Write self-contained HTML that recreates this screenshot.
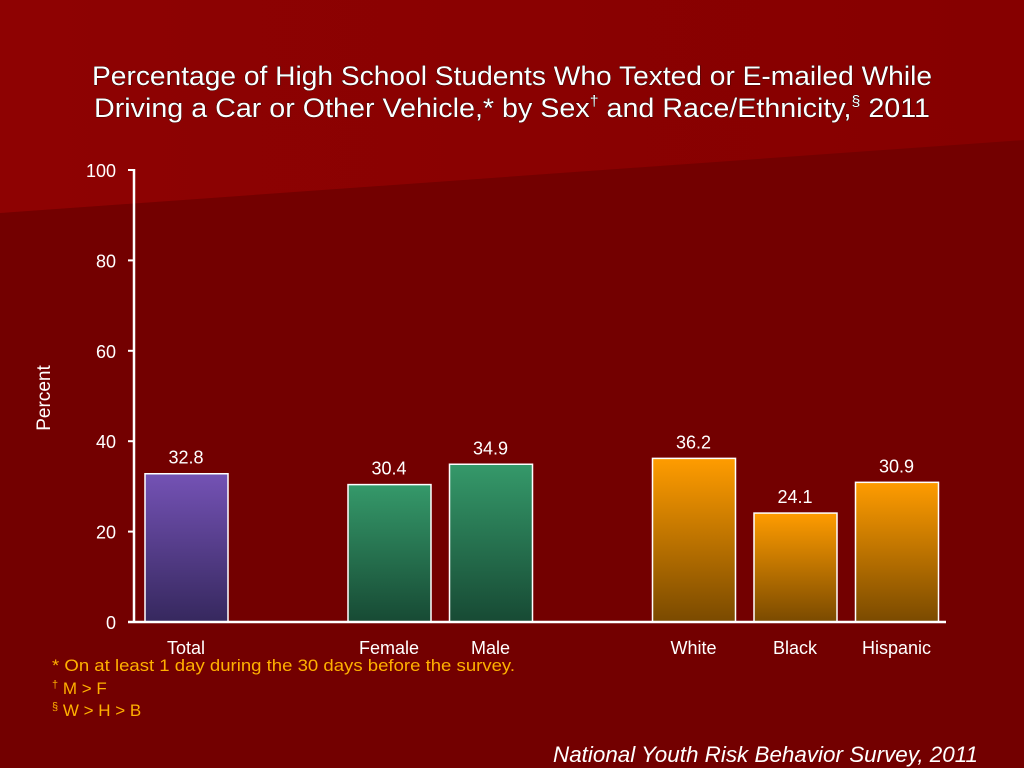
<!DOCTYPE html>
<html><head><meta charset="utf-8"><style>
body{margin:0;width:1024px;height:768px;overflow:hidden;background:#730000;font-family:"Liberation Sans",sans-serif}
svg{display:block}
</style></head><body>
<svg width="1024" height="768">
<defs>
<linearGradient id="gp" x1="0" y1="0" x2="0" y2="1"><stop offset="0" stop-color="#7452b5"/><stop offset="1" stop-color="#36285e"/></linearGradient>
<linearGradient id="gg" x1="0" y1="0" x2="0" y2="1"><stop offset="0" stop-color="#35996a"/><stop offset="1" stop-color="#174a34"/></linearGradient>
<linearGradient id="go" x1="0" y1="0" x2="0" y2="1"><stop offset="0" stop-color="#ff9c00"/><stop offset="1" stop-color="#7a4a00"/></linearGradient>
<linearGradient id="gbg" x1="0" y1="0" x2="1" y2="0"><stop offset="0" stop-color="#8e0202"/><stop offset="1" stop-color="#860000"/></linearGradient>
</defs>
<rect width="1024" height="768" fill="#730000"/>
<polygon points="0,0 1024,0 1024,140 0,213" fill="url(#gbg)"/>
<g fill="#fff" stroke="#000" stroke-width="0.6" paint-order="stroke" font-size="27">
<text x="512" y="85" text-anchor="middle" textLength="840" lengthAdjust="spacingAndGlyphs">Percentage of High School Students Who Texted or E-mailed While</text>
<text x="512" y="117" text-anchor="middle" textLength="836" lengthAdjust="spacingAndGlyphs">Driving a Car or Other Vehicle,* by Sex<tspan font-size="15" dy="-11">†</tspan><tspan dy="11"> and Race/Ethnicity,</tspan><tspan font-size="15" dy="-11">§</tspan><tspan dy="11"> 2011</tspan></text>
</g>
<g id="plot"></g>
<text x="50" y="398" transform="rotate(-90 50 398)" text-anchor="middle" fill="#fff" font-size="19">Percent</text>
<g fill="#ffb000" font-size="17">
<text x="52" y="671" textLength="463" lengthAdjust="spacingAndGlyphs">* On at least 1 day during the 30 days before the survey.</text>
<text x="52" y="694"><tspan font-size="11" dy="-6">†</tspan><tspan dy="6"> M &gt; F</tspan></text>
<text x="52" y="716"><tspan font-size="11" dy="-6">§</tspan><tspan dy="6"> W &gt; H &gt; B</tspan></text>
</g>
<text x="978" y="762" text-anchor="end" fill="#fff" font-size="22" font-style="italic" textLength="425" lengthAdjust="spacingAndGlyphs">National Youth Risk Behavior Survey, 2011</text>
</svg>
<script>
const categories=["Total","Female","Male","White","Black","Hispanic"];
const values=[32.8,30.4,34.9,36.2,24.1,30.9];
const slots=[0,2,3,5,6,7];
const fills=["url(#gp)","url(#gg)","url(#gg)","url(#go)","url(#go)","url(#go)"];
const yTicks=[0,20,40,60,80,100];
const NS="http://www.w3.org/2000/svg";
const g=document.getElementById('plot');
const y=v=>622-v*4.52;
const x=s=>136+s*101.5;
function mk(t,a,txt){const e=document.createElementNS(NS,t);for(const k in a)e.setAttribute(k,a[k]);if(txt!=null)e.textContent=txt;g.appendChild(e);return e;}
yTicks.forEach(t=>{
 const l=mk('line',{x1:128,x2:134,y1:y(t),y2:y(t),stroke:'#fff','stroke-width':2});
 
 
 const tx=mk('text',{x:116,y:y(t)+7,'text-anchor':'end',fill:'#fff','font-size':18},t);
 
 
});
values.forEach((v,i)=>{
 const s=slots[i];
 const r=mk('rect',{x:x(s)+9,y:y(v),width:83,height:622-y(v),fill:fills[i],stroke:'#fff','stroke-width':1.5});
 
 
 const lb=mk('text',{x:x(s)+50,y:y(v)-10,'text-anchor':'middle',fill:'#fff','font-size':18},v.toFixed(1));
 
 
 const c=mk('text',{x:x(s)+50,y:654,'text-anchor':'middle',fill:'#fff','font-size':18},categories[i]);
 
 
});
const ya=mk('line',{x1:134,x2:134,y1:y(100)-1,y2:623,stroke:'#fff','stroke-width':2.5});


const xa=mk('line',{x1:128,x2:946,y1:622,y2:622,stroke:'#fff','stroke-width':2.5});


</script>
</body></html>
